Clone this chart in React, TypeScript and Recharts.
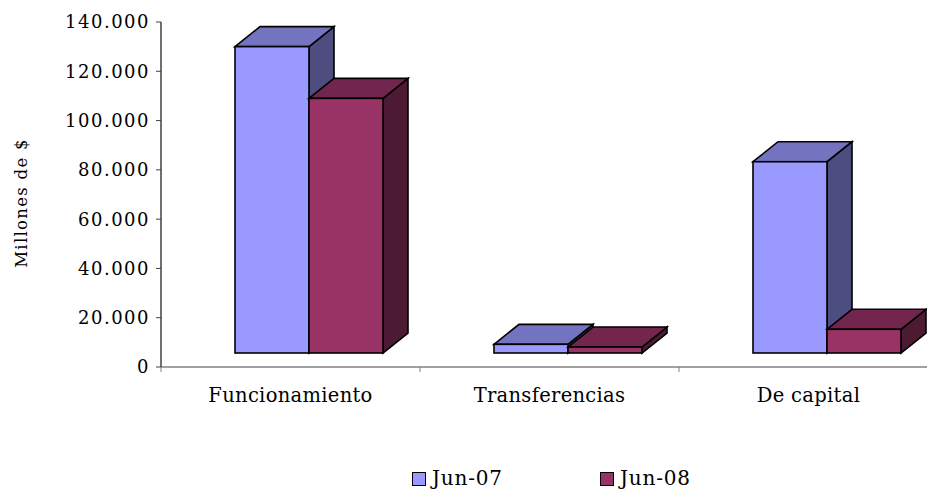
import React from 'react';
import { BarChart, Bar, XAxis, YAxis } from 'recharts';

const categories = ['Funcionamiento', 'Transferencias', 'De capital'];
const jun07 = [130000, 9200, 83300];
const jun08 = [109000, 8100, 15300];
const yTicks = [0, 20000, 40000, 60000, 80000, 100000, 120000, 140000];
const seriesNames = ['Jun-07', 'Jun-08'];

const data = categories.map((name, i) => ({ name, jun07: jun07[i], jun08: jun08[i] }));

const FONT = '"DejaVu Serif", serif';
const DX = 25;
const DY = 20;
const SHIFT = 18;
const FLOOR = 14;
const TICK_SIZE = 5;
const TICK_MARGIN = 16;

const COLORS = {
  jun07: { front: '#9999FF', top: '#7373C0', side: '#4D4D80' },
  jun08: { front: '#993366', top: '#73264D', side: '#4D1A33' },
};

function fmt(v: number) {
  return String(v).replace(/\B(?=(\d{3})+(?!\d))/g, '.');
}

function Box3D(props: any) {
  const { x, y, width, height, front, top, side } = props;
  if (x == null || y == null) return null;
  const bottom = y + height - FLOOR;
  const l = x + SHIFT;
  const r = l + width;
  return (
    <g stroke="#000" strokeWidth={1.6} strokeLinejoin="miter">
      <polygon points={`${r},${y} ${r + DX},${y - DY} ${r + DX},${bottom - DY} ${r},${bottom}`} fill={side} />
      <polygon points={`${l},${y} ${l + DX},${y - DY} ${r + DX},${y - DY} ${r},${y}`} fill={top} />
      <rect x={l} y={y} width={width} height={Math.max(0, bottom - y)} fill={front} />
    </g>
  );
}

function XTick(props: any) {
  const { x, y, payload } = props;
  const off = payload && payload.offset ? payload.offset : 0;
  const axisY = y - TICK_SIZE - TICK_MARGIN;
  return (
    <g>
      <line x1={x - off} y1={axisY} x2={x - off} y2={axisY + TICK_SIZE} stroke="#808080" strokeWidth={1} />
      <text x={x} y={y} dy="0.71em" textAnchor="middle" fill="#000" fontSize={19.5} fontFamily={FONT} letterSpacing={0.3}>
        {payload.value}
      </text>
    </g>
  );
}

function YLabel() {
  return (
    <text
      transform="translate(27,203) rotate(-90)"
      textAnchor="middle"
      fill="#000"
      fontSize={16.5}
      fontFamily={FONT}
      letterSpacing={1.3}
    >
      Millones de $
    </text>
  );
}

export default function App() {
  return (
    <div style={{ position: 'absolute', left: 0, top: 0, width: 927, height: 491, overflow: 'hidden', background: '#fff' }}>
      <BarChart
        width={940}
        height={491}
        data={data}
        margin={{ top: 22, right: 2, bottom: 0, left: 0 }}
        barGap={0}
        barSize={74}
      >
        <XAxis
          dataKey="name"
          height={124}
          tickSize={TICK_SIZE}
          tickMargin={TICK_MARGIN}
          tickLine={false}
          axisLine={{ stroke: '#808080', strokeWidth: 1.5 }}
          tick={<XTick />}
          interval={0}
        />
        <YAxis
          width={161}
          domain={[0, 140000]}
          ticks={yTicks}
          interval={0}
          tickSize={5}
          tickMargin={6}
          tickFormatter={fmt}
          axisLine={{ stroke: '#404040', strokeWidth: 1.5 }}
          tickLine={{ stroke: '#404040' }}
          tick={{ fill: '#000', fontSize: 18, fontFamily: FONT, letterSpacing: 1.5 }}
          label={<YLabel />}
        />
        <Bar
          dataKey="jun07"
          name={seriesNames[0]}
          isAnimationActive={false}
          shape={(p: any) => <Box3D {...p} {...COLORS.jun07} />}
        />
        <Bar
          dataKey="jun08"
          name={seriesNames[1]}
          isAnimationActive={false}
          shape={(p: any) => <Box3D {...p} {...COLORS.jun08} />}
        />
      </BarChart>
      {seriesNames.map((n, i) => (
        <div
          key={n}
          style={{
            position: 'absolute',
            left: i === 0 ? 412 : 600,
            top: 466,
            display: 'flex',
            alignItems: 'center',
            fontFamily: FONT,
            fontSize: 20,
            letterSpacing: 0.8,
            color: '#000',
            lineHeight: '24px',
          }}
        >
          <span
            style={{
              display: 'inline-block',
              width: 12,
              height: 12,
              border: '1.5px solid #000',
              background: i === 0 ? COLORS.jun07.front : COLORS.jun08.front,
              marginRight: 6,
              marginTop: 2,
            }}
          />
          <span>{n}</span>
        </div>
      ))}
    </div>
  );
}
